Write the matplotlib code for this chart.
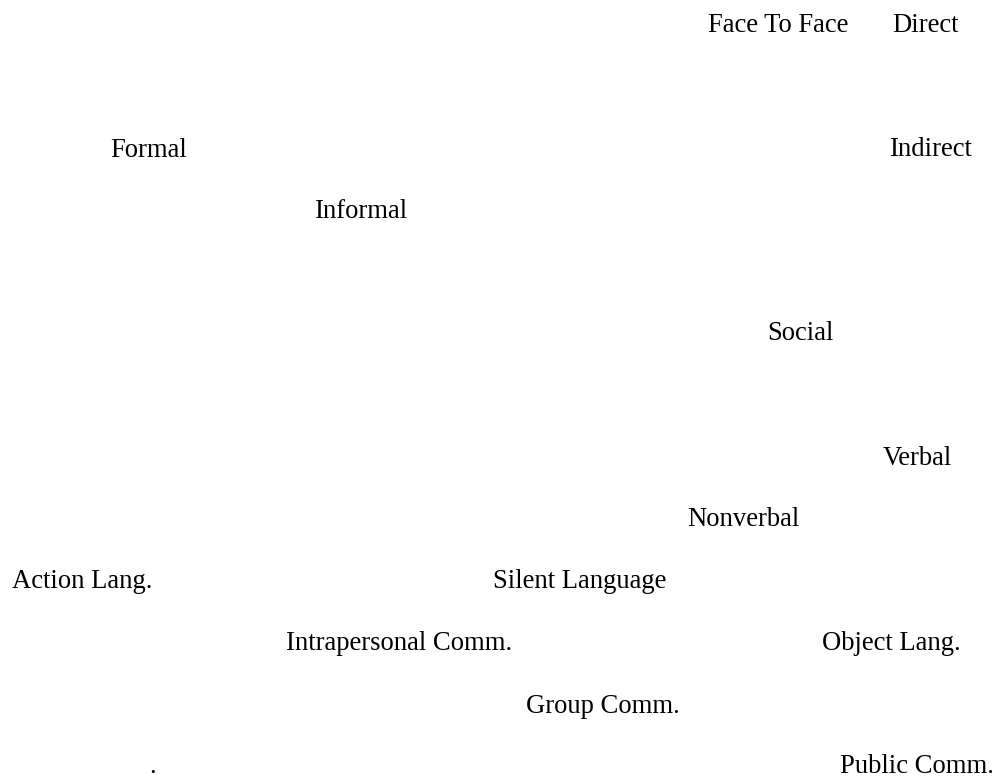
import matplotlib.pyplot as plt

# labels and their positions (left x, baseline y) in image pixels
labels = ['Face To Face', 'Direct', 'Formal', 'Indirect', 'Informal', 'Social',
          'Verbal', 'Nonverbal', 'Action Lang.', 'Silent Language',
          'Intrapersonal Comm.', 'Object Lang.', 'Group Comm.', '.', 'Public Comm.']
x_pos = [708, 892, 110, 890, 315, 767, 883, 687, 12, 493, 286, 822, 526, 149, 840]
y_pos = [32, 32, 157, 156, 218, 340, 465, 526, 588, 588, 650, 650, 713, 773, 773]

fig = plt.figure(figsize=(9.99, 7.8), dpi=100)
ax = fig.add_axes([0, 0, 1, 1])
ax.set_xlim(0, 999)
ax.set_ylim(780, 0)
ax.axis('off')

for lab, x, y in zip(labels, x_pos, y_pos):
    ax.text(x, y, lab, ha='left', va='baseline', fontsize=19.2,
            family='Liberation Serif', color='black')

fig.savefig('out.png', dpi=100, facecolor='white')
